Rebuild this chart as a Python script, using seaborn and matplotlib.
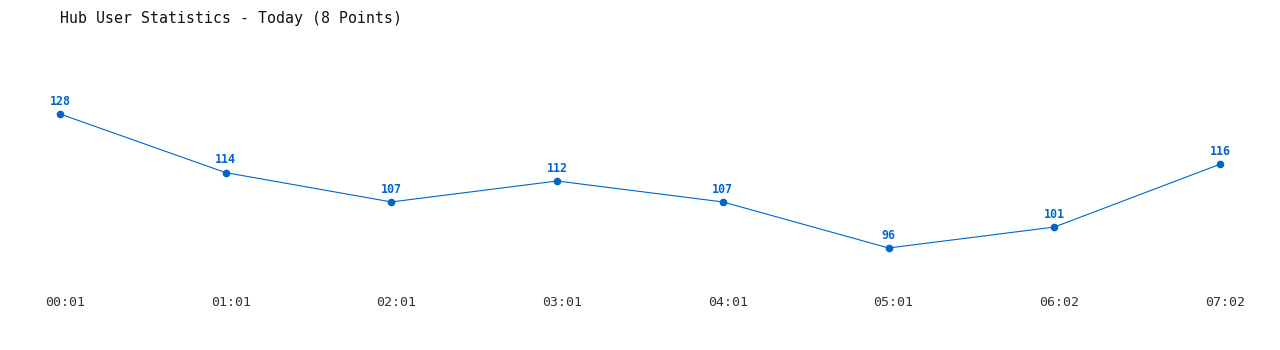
import matplotlib
matplotlib.use("Agg")
import matplotlib.pyplot as plt
import matplotlib.transforms as mtransforms
import seaborn as sns
import pandas as pd

times = ["00:01", "01:01", "02:01", "03:01", "04:01", "05:01", "06:02", "07:02"]
users = [128, 114, 107, 112, 107, 96, 101, 116]

sns.set_style("white")
plt.rcParams['font.family'] = ['DejaVu Sans Mono']

df = pd.DataFrame({"idx": range(len(times)), "users": users})

fig = plt.figure(figsize=(12.8, 3.5), dpi=100)
W, H = 1280, 350
ax = fig.add_axes([60 / W, (H - 248) / H, (1220 - 60) / W, (248 - 114) / H])
color = "#0066cc"
sns.lineplot(data=df, x="idx", y="users", ax=ax, color=color, linewidth=0.8,
             marker="o", markersize=5.5, markeredgewidth=0, clip_on=False)
ax.set_xlim(0, len(times) - 1)
ax.set_ylim(96, 128)
for i, v in enumerate(users):
    ax.annotate(str(v), (i, v), xytext=(0, 4.5), textcoords="offset points",
                ha="center", va="bottom", fontsize=8.4, fontweight="bold", color=color)

ax.set_xticks(range(len(times)))
ax.set_xticklabels(times, fontsize=9.5, color="#333333")
ax.tick_params(axis="x", length=0, pad=34.5)
offset = mtransforms.ScaledTranslation(5 / 100, 0, fig.dpi_scale_trans)
for lbl in ax.get_xticklabels():
    lbl.set_transform(lbl.get_transform() + offset)
ax.set_yticks([])
ax.set_xlabel("")
ax.set_ylabel("")
for s in ax.spines.values():
    s.set_visible(False)

fig.text(60 / W, 1 - 18 / H, "Hub User Statistics - Today (8 Points)", fontsize=10.7,
         fontweight="normal", color="#111111", ha="left", va="center")

fig.savefig("out.png", dpi=100, facecolor="white")
